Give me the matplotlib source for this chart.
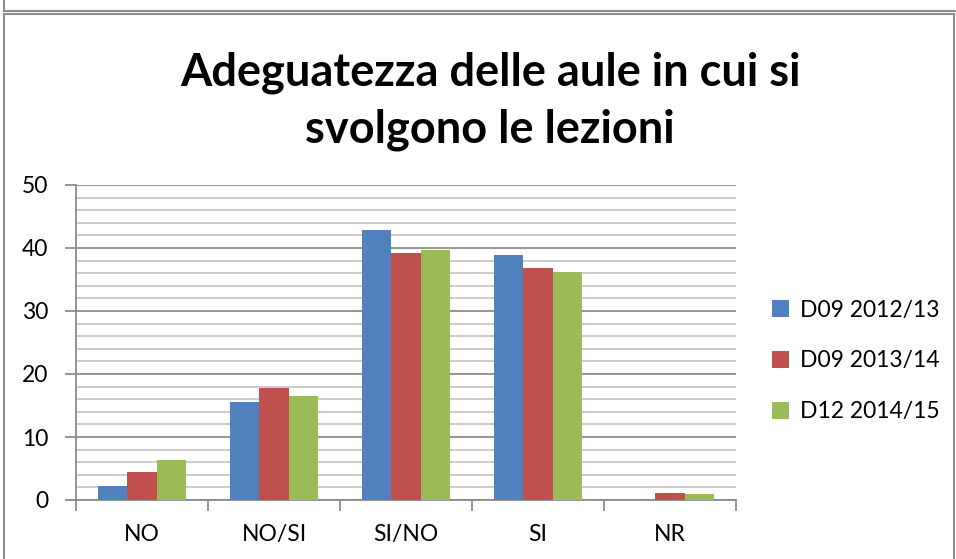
import numpy as np
import matplotlib.pyplot as plt
from matplotlib.patches import Rectangle
from matplotlib.lines import Line2D

categories = ["NO", "NO/SI", "SI/NO", "SI", "NR"]
series_names = ["D09 2012/13", "D09 2013/14", "D12 2014/15"]
d09_1213 = [2.2, 15.6, 42.9, 38.9, 0.0]
d09_1314 = [4.5, 17.7, 39.2, 36.9, 1.1]
d12_1415 = [6.3, 16.5, 39.7, 36.2, 0.9]
colors = ["#4F81BD", "#C0504D", "#9BBB59"]

plt.rcParams['font.family'] = ['Lato', 'DejaVu Sans']

fig = plt.figure(figsize=(9.56, 5.59), dpi=100)

# chart frame (spreadsheet look)
fig.add_artist(Rectangle((4/956, -0.1), 950/956, 1.1 - 14/559, transform=fig.transFigure,
                         fill=False, edgecolor="#8C8C8C", lw=1.5))
fig.add_artist(Line2D([4/956, 1], [1 - 11/559, 1 - 11/559], transform=fig.transFigure,
                      color="#8C8C8C", lw=1.5))
fig.add_artist(Line2D([4/956, 4/956], [1 - 11/559, 1], transform=fig.transFigure,
                      color="#8C8C8C", lw=1.5))

ax = fig.add_axes([76/956, 1 - 500/559, 660/956, 315/559])

x = np.arange(len(categories))
w = 1 / 4.5
for i, (vals, name) in enumerate(zip([d09_1213, d09_1314, d12_1415], series_names)):
    ax.bar(x + (i - 1) * w, vals, width=w, color=colors[i], label=name, zorder=3)

ax.set_xlim(-0.5, len(categories) - 0.5)
ax.set_ylim(0, 50)
ax.set_yticks(range(0, 51, 10))
ax.set_yticks(range(0, 51, 2), minor=True)
ax.grid(axis='y', which='minor', color="#C8C8C8", lw=1.3, zorder=0)
ax.grid(axis='y', which='major', color="#8C8C8C", lw=1.3, zorder=1)

ax.set_xticks(x)
ax.set_xticklabels(categories, fontsize=16.5)
ax.tick_params(axis='x', length=0, pad=17)
ax.set_xticks(np.arange(-0.5, len(categories)), minor=True)
ax.tick_params(axis='x', which='minor', length=8, width=1.3, color="#8C8C8C", direction='out')
ax.tick_params(axis='y', which='major', labelsize=16.5, length=8, width=1.3, color="#8C8C8C", pad=12)
ax.tick_params(axis='y', which='minor', length=0)

for s in ['top', 'right']:
    ax.spines[s].set_visible(False)
for s in ['left', 'bottom']:
    ax.spines[s].set_color("#8C8C8C")
    ax.spines[s].set_linewidth(1.3)

fig.text(490/956, 1 - 101/559, "Adeguatezza delle aule in cui si\nsvolgono le lezioni",
         ha='center', va='center', fontsize=32.5, fontweight='bold', linespacing=1.42)

ax.legend(loc='center left', bbox_to_anchor=(772/956, 1 - 361/559), bbox_transform=fig.transFigure,
          frameon=False, fontsize=16.5, handlelength=0.75, handleheight=0.75, handletextpad=0.45,
          labelspacing=1.3, borderaxespad=0, borderpad=0)

fig.savefig("out.png", dpi=100)
